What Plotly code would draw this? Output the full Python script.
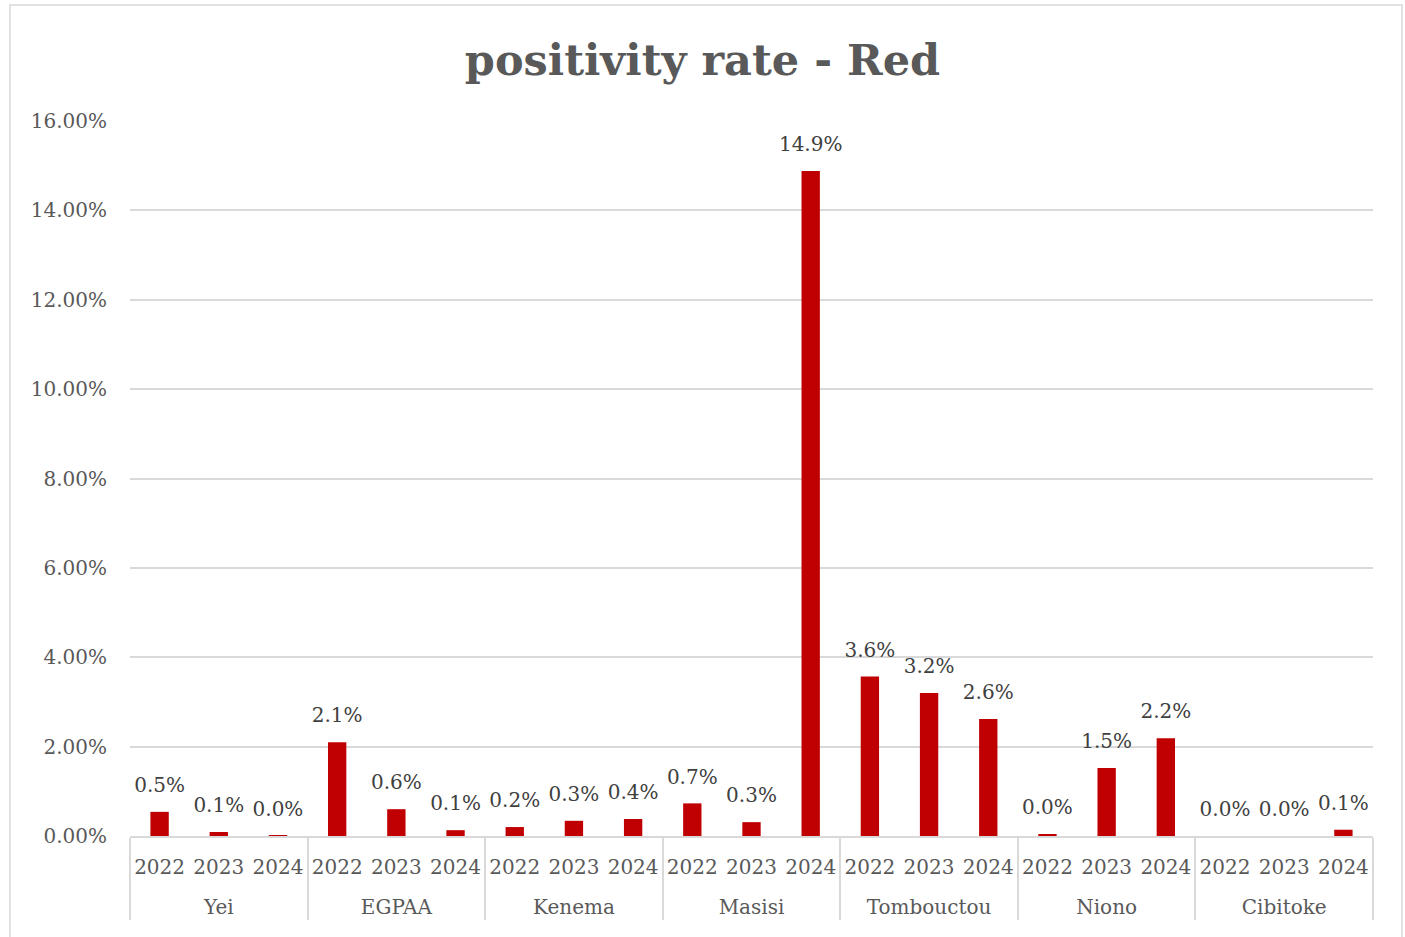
import plotly.graph_objects as go

sites = ["Yei", "EGPAA", "Kenema", "Masisi", "Tombouctou", "Niono", "Cibitoke"]
years = ["2022", "2023", "2024"]
values = [
    [0.54, 0.09, 0.01],   # Yei
    [2.10, 0.60, 0.13],   # EGPAA
    [0.20, 0.34, 0.38],   # Kenema
    [0.73, 0.31, 14.88],  # Masisi
    [3.57, 3.20, 2.62],   # Tombouctou
    [0.04, 1.52, 2.19],   # Niono
    [0.00, 0.00, 0.14],   # Cibitoke
]
yticks = [0, 2, 4, 6, 8, 10, 12, 14, 16]

x_site = [s for s in sites for _ in years]
# extra blank line under the year pushes the site level lower, as in the reference
x_year = [y + "<br> " for _ in sites for y in years]
y_vals = [v / 100 for row in values for v in row]
n_cat = len(x_site)

FONT = "DejaVu Serif"

fig = go.Figure()
fig.add_trace(go.Bar(
    x=[x_site, x_year],
    y=y_vals,
    marker=dict(color="#C00000", line=dict(width=0)),
    hoverinfo="skip",
))
# data labels placed a little above each bar
fig.add_trace(go.Scatter(
    x=[x_site, x_year],
    y=y_vals,
    mode="markers+text",
    marker=dict(size=22, color="rgba(0,0,0,0)"),
    texttemplate="%{y:.1%}",
    textposition="top center",
    textfont=dict(family=FONT, size=20, color="#404040"),
    cliponaxis=False,
))

W, H = 1405, 937
L, R, T, B = 130, 32, 121, 101
pw, ph = W - L - R, H - T - B

def px_x(p):
    return (p - L) / pw

def px_y(p):
    return (H - B - p) / ph

fig.add_shape(type="rect", xref="paper", yref="paper",
              x0=px_x(10), x1=px_x(1402), y0=px_y(960), y1=px_y(5),
              line=dict(color="#D9D9D9", width=1.5), layer="below")

fig.update_layout(
    width=W, height=H,
    margin=dict(l=L, r=R, t=T, b=B, autoexpand=False),
    paper_bgcolor="white", plot_bgcolor="white",
    bargap=0.69,
    showlegend=False,
    title=dict(text="<b>positivity rate - Red</b>", x=0.5, xanchor="center",
               y=1 - 60 / H, yanchor="middle",
               font=dict(family=FONT, size=43, color="#595959")),
    font=dict(family=FONT, color="#595959"),
    xaxis=dict(
        type="multicategory",
        range=[-0.5, n_cat - 0.5],
        tickangle=0,
        automargin=False,
        showline=True, linecolor="#D9D9D9", linewidth=1.5,
        showdividers=True, dividercolor="#D9D9D9", dividerwidth=1.5,
        tickfont=dict(family=FONT, size=20, color="#595959"),
        showgrid=False, ticks="",
        ticklabelstandoff=12,
    ),
    yaxis=dict(
        range=[0, 0.16],
        automargin=False,
        tickvals=[t / 100 for t in yticks],
        tickformat=".2%",
        showgrid=True, gridcolor="#D9D9D9", gridwidth=1.5,
        zeroline=False,
        showline=False,
        tickfont=dict(family=FONT, size=20, color="#595959"),
        ticklabelstandoff=22,
    ),
)

fig.write_html("out.html")
